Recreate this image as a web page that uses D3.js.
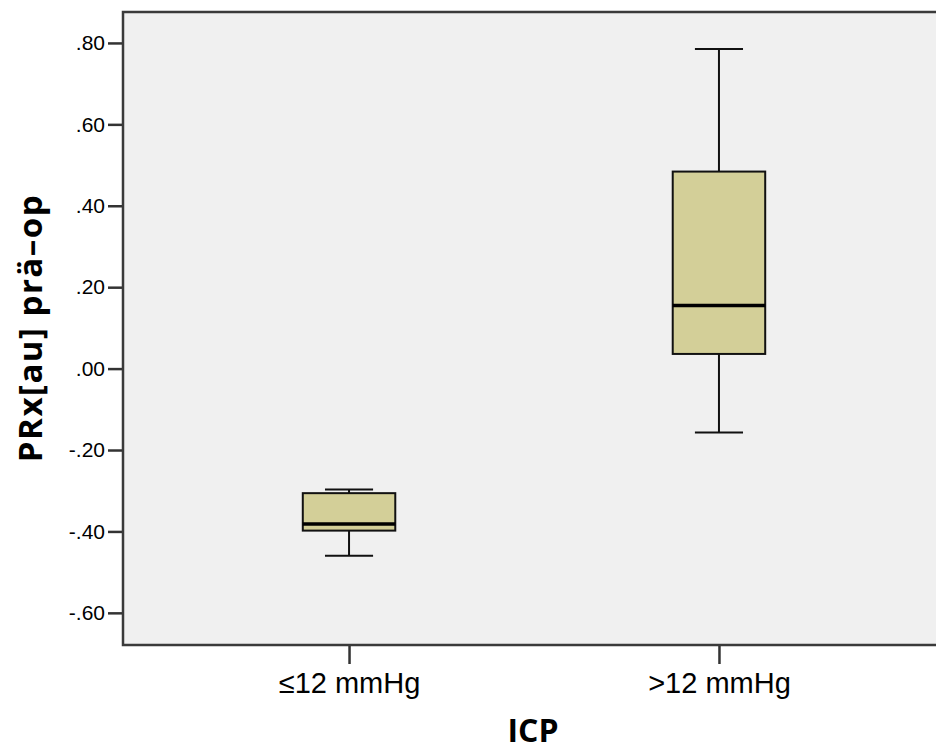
<!DOCTYPE html>
<html>
<head>
<meta charset="utf-8">
<script src="https://cdn.jsdelivr.net/npm/d3@7"></script>
<style>
  body { margin: 0; background: #fff; }
  svg { display: block; }
</style>
</head>
<body>
<script>
// 画布尺寸
const width = 936;
const height = 751;

// 绘图区边界 (右侧超出画布)
const plot = { left: 123, right: 945, top: 12, bottom: 645 };

// 数据
const categories = ['≤12 mmHg', '>12 mmHg'];
const whiskerLow = [-0.460, -0.157];
const q1 = [-0.398, 0.036];
const median = [-0.382, 0.155];
const q3 = [-0.306, 0.484];
const whiskerHigh = [-0.297, 0.785];
const yTicks = [-0.6, -0.4, -0.2, 0, 0.2, 0.4, 0.6, 0.8];

const boxes = categories.map(function(c, i){
    return { cat: c, lo: whiskerLow[i], q1: q1[i], med: median[i], q3: q3[i], hi: whiskerHigh[i] };
});

const svg = d3.select('body').append('svg').attr('width', width).attr('height', height);

const y = d3.scaleLinear().domain([-0.679, 0.876]).range([plot.bottom, plot.top]);
const x = d3.scalePoint().domain(categories).range([plot.left, plot.right]).padding(0.611);

const boxWidth = x.step() * 0.25;
const capWidth = boxWidth * 0.52;

// 背景
svg.append('rect')
    .attr('x', plot.left).attr('y', plot.top)
    .attr('width', plot.right - plot.left).attr('height', plot.bottom - plot.top)
    .attr('fill', '#f0f0f0');

// SPSS风格: 去掉前导0, 用普通连字符
const fmt = function(d){
    return d3.format('.2f')(d).replace('\u2212', '-').replace('0.', '.');
};

// y轴
const yAxis = svg.append('g')
    .attr('transform', 'translate(' + plot.left + ',0)')
    .call(d3.axisLeft(y).tickValues(yTicks).tickFormat(fmt).tickSize(15).tickPadding(3));
yAxis.select('.domain').remove();
yAxis.selectAll('line').attr('stroke', '#333').attr('stroke-width', 2.5);
yAxis.selectAll('text')
    .attr('font-family', 'Liberation Sans, Arial, sans-serif')
    .attr('font-size', '21px')
    .attr('fill', '#000');

// x轴
const xAxis = svg.append('g')
    .attr('transform', 'translate(0,' + plot.bottom + ')')
    .call(d3.axisBottom(x).tickSize(19).tickPadding(8));
xAxis.select('.domain').remove();
xAxis.selectAll('line').attr('stroke', '#333').attr('stroke-width', 2.5);
xAxis.selectAll('text')
    .attr('font-family', 'Liberation Sans, Arial, sans-serif')
    .attr('font-size', '29px')
    .attr('fill', '#000');

// 边框
svg.append('path')
    .attr('d', 'M' + (plot.right) + ',' + plot.top + 'H' + plot.left + 'V' + plot.bottom + 'H' + plot.right)
    .attr('fill', 'none')
    .attr('stroke', '#3a3a3a')
    .attr('stroke-width', 2.5);

// 箱线图
const g = svg.selectAll('.box')
    .data(boxes)
    .enter()
    .append('g')
    .attr('class', 'box');

// 须线
g.append('line')
    .attr('x1', function(d){ return x(d.cat); })
    .attr('x2', function(d){ return x(d.cat); })
    .attr('y1', function(d){ return y(d.hi); })
    .attr('y2', function(d){ return y(d.lo); })
    .attr('stroke', '#111').attr('stroke-width', 2);

g.selectAll('.cap')
    .data(function(d){ return [{ cat: d.cat, v: d.hi }, { cat: d.cat, v: d.lo }]; })
    .enter()
    .append('line')
    .attr('class', 'cap')
    .attr('x1', function(d){ return x(d.cat) - capWidth / 2; })
    .attr('x2', function(d){ return x(d.cat) + capWidth / 2; })
    .attr('y1', function(d){ return y(d.v); })
    .attr('y2', function(d){ return y(d.v); })
    .attr('stroke', '#111').attr('stroke-width', 2);

// 箱体
g.append('rect')
    .attr('x', function(d){ return x(d.cat) - boxWidth / 2; })
    .attr('y', function(d){ return y(d.q3); })
    .attr('width', boxWidth)
    .attr('height', function(d){ return y(d.q1) - y(d.q3); })
    .attr('fill', '#d3cf98')
    .attr('stroke', '#111')
    .attr('stroke-width', 2);

// 中位数
g.append('line')
    .attr('x1', function(d){ return x(d.cat) - boxWidth / 2; })
    .attr('x2', function(d){ return x(d.cat) + boxWidth / 2; })
    .attr('y1', function(d){ return y(d.med); })
    .attr('y2', function(d){ return y(d.med); })
    .attr('stroke', '#000').attr('stroke-width', 3.5);

// 轴标题
svg.append('text')
    .attr('transform', 'translate(42,' + 328 + ') rotate(-90)')
    .attr('text-anchor', 'middle')
    .attr('font-family', 'Open Sans, sans-serif')
    .attr('font-weight', 'bold')
    .attr('font-size', '33px')
    .attr('letter-spacing', '1.5px')
    .attr('fill', '#000')
    .text('PRx[au] prä–op');

svg.append('text')
    .attr('x', 533)
    .attr('y', 742)
    .attr('text-anchor', 'middle')
    .attr('font-family', 'Open Sans, sans-serif')
    .attr('font-weight', 'bold')
    .attr('font-size', '32px')
    .attr('fill', '#000')
    .text('ICP');
</script>
</body>
</html>
